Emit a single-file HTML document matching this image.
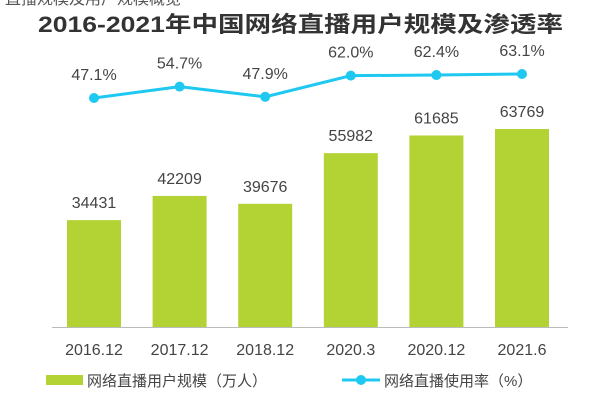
<!DOCTYPE html>
<html><head><meta charset="utf-8"><style>
body{margin:0;background:#fff;width:600px;height:400px;overflow:hidden}
svg{font-family:"Liberation Sans","Noto Sans CJK SC",sans-serif}
</style></head><body>
<svg width="600" height="400">
<text x="5" y="4" font-size="16" fill="#555">直播规模及用户规模概览</text>
<text x="38" y="32" font-size="22" font-weight="bold" fill="#333" textLength="525" lengthAdjust="spacingAndGlyphs">2016-2021年中国网络直播用户规模及渗透率</text>
<line x1="52" y1="327.5" x2="568" y2="327.5" stroke="#bbb" stroke-width="1"/>
<g id="bars"></g><g id="line"></g><g id="xlabels"></g>
<g>
<rect x="46" y="375" width="37" height="10" fill="#b3d334"/>
<text x="87" y="386" font-size="15" fill="#444">网络直播用户规模（万人）</text>
<line x1="342" y1="380" x2="380" y2="380" stroke="#1ec8f0" stroke-width="3"/>
<circle cx="361" cy="380" r="5" fill="#1ec8f0"/>
<text x="384" y="386" font-size="15" fill="#444">网络直播使用率（%）</text>
</g>
</svg>
<script>
const categories=["2016.12","2017.12","2018.12","2020.3","2020.12","2021.6"];
const users=[34431,42209,39676,55982,61685,63769];
const rates=[47.1,54.7,47.9,62.0,62.4,63.1];
const NS="http://www.w3.org/2000/svg";
const x=i=>94+i*85.6;
const yBar=v=>327-v*0.003105;
const yLine=v=>168.65-1.5*v;
function mk(t,a,p){const e=document.createElementNS(NS,t);for(const k in a)e.setAttribute(k,a[k]);p.appendChild(e);return e;}
const bars=document.getElementById('bars'),line=document.getElementById('line'),xl=document.getElementById('xlabels');
users.forEach((v,i)=>{
 const r=mk('rect',{x:x(i)-27,y:yBar(v),width:54,height:327-yBar(v),fill:'#b3d334'},bars);
 
 
 const t=mk('text',{x:x(i),y:yBar(v)-12,'text-anchor':'middle','font-size':16,fill:'#444'},bars);t.textContent=v;
 
 
 const c=mk('text',{x:x(i),y:355,'text-anchor':'middle','font-size':16,fill:'#444'},xl);c.textContent=categories[i];
 
 
});
const pl=mk('polyline',{points:rates.map((v,i)=>x(i)+','+yLine(v)).join(' '),fill:'none',stroke:'#1ec8f0','stroke-width':3},line);


rates.forEach((v,i)=>{
 const c=mk('circle',{cx:x(i),cy:yLine(v),r:5,fill:'#1ec8f0'},line);
 
 
 const t=mk('text',{x:x(i),y:yLine(v)-18,'text-anchor':'middle','font-size':16,fill:'#444'},line);t.textContent=v.toFixed(1)+'%';
 
 
});
</script>
</body></html>
